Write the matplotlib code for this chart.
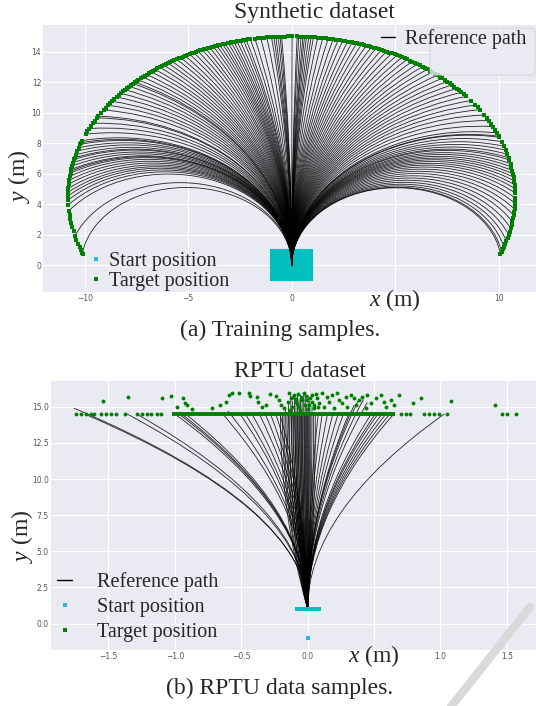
import numpy as np
import matplotlib.pyplot as plt
from matplotlib.patches import Arc, Rectangle, FancyBboxPatch
from matplotlib.lines import Line2D

plt.style.use('seaborn-v0_8-darkgrid')
plt.rcParams['font.family'] = ['Liberation Serif', 'DejaVu Serif']
plt.rcParams['mathtext.fontset'] = 'custom'
plt.rcParams['mathtext.rm'] = 'Liberation Serif'
plt.rcParams['mathtext.it'] = 'Liberation Serif:italic'

# ---------------- synthetic dataset ----------------
# targets lie on a ring around (0, 4.5); angles in degrees
ring_center = (0.0, 4.5)
ring_radii = (10.8, 10.5)
syn_origin = (0.0, 0.0)
syn_path_deg = [
    92.6, 93.0, 93.5, 94.1, 94.6, 95.2, 96.4, 98.0, 99.5, 100.7, 101.8, 102.5,
    103.4, 104.2, 105.0, 105.7, 106.5, 107.3, 108.0, 108.8, 109.6, 110.5, 111.5,
    112.6, 113.6, 114.8, 116.0, 117.2, 118.5, 119.8, 121.0, 122.4, 123.6, 124.9,
    126.2, 127.6, 128.9, 130.4, 131.8, 133.3, 134.5, 135.2, 136.6, 138.2, 139.9,
    141.6, 143.5, 145.3, 147.3, 149.9, 150.6, 152.8, 154.9, 157.1, 159.6, 160.4,
    161.0, 162.3, 163.5, 164.9, 166.0, 166.6, 167.8, 169.0, 170.3, 170.9, 171.6,
    172.8, 174.2, 175.6, 177.1, 178.5, 179.8, 181.3, 183.0, 185.1, 194.3, 200.6,
    89.9, 88.6, 88.2, 87.6, 87.1, 86.7, 86.2, 85.6, 85.0, 84.4, 83.3, 82.0, 80.6,
    79.3, 78.0, 76.8, 75.5, 74.3, 73.1, 71.8, 70.5, 69.1, 67.8, 66.3, 64.9, 63.4,
    61.9, 60.4, 58.9, 57.4, 55.8, 54.2, 52.6, 51.0, 49.3, 47.6, 45.9, 44.2, 42.4,
    40.6, 38.7, 36.8, 34.8, 32.8, 30.6, 28.3, 25.9, 23.4, 22.1, 21.7, 20.0, 18.3,
    16.8, 15.3, 14.0, 13.2, 11.8, 10.6, 9.3, 8.1, 6.9, 5.6, 4.2, 2.8, 1.2, -0.6,
    -2.5, -4.6, -6.8, -9.1, -11.5, -13.9, -16.2, -18.4, -20.2, -21.0,
]
# targets without a drawn path
syn_extra_deg = [
    91.0, 91.8, 97.2, 98.8, 101.2, 103.0, 104.6, 106.1, 107.7, 109.2, 110.0,
    111.0, 112.0, 113.1, 114.2, 115.4, 116.6, 117.8, 119.1, 120.4, 121.7, 123.0,
    124.3, 125.5, 126.9, 128.2, 129.6, 131.1, 132.5, 133.9, 135.9, 137.4, 139.0,
    140.7, 142.5, 144.4, 146.3, 148.6, 151.7, 153.9, 156.0, 186.5, 188.0, 189.5,
    191.0, 192.6, 195.7, 197.2, 198.6, 199.7, 201.0,
    83.9, 82.7, 81.3, 79.9, 78.6, 77.4, 76.1, 74.9, 73.7, 72.4, 71.1, 69.8, 68.4,
    67.0, 65.6, 64.1, 62.6, 61.1, 59.6, 58.1, 56.6, 55.0, 53.4, 51.8, 50.1, 48.4,
    46.7, 45.0, 43.3, 41.5, 39.6, 33.8, 29.4, 27.1, 24.6, -1.5, -3.5, -5.7, -7.9,
    -10.3, -12.7, -15.0, -17.3, -19.3,
]
syn_start_x = (-1.0, 1.0)
syn_start_y = (-1.0, 1.0)

# ---------------- RPTU dataset ----------------
rptu_origin = (0.0, 1.0)
# paths that leave the start heading straight up
rptu_path_x = [
    -1.76, -1.68, -1.36, -1.29, -1.00, -0.97, -0.95, -0.92, -0.64, -0.60, -0.51,
    -0.47, -0.42, -0.37, -0.32, -0.28, -0.24, -0.21,
    0.08, 0.11, 0.15, 0.19, 0.23, 0.27, 0.31, 0.35, 0.38, 0.42, 0.45, 0.48, 0.51,
    0.53, 0.56, 0.59, 0.62, 0.65, 1.03,
]
rptu_path_y = [
    14.9, 14.5, 14.5, 14.5, 14.5, 14.5, 14.5, 14.5, 14.5, 14.7, 14.5,
    14.5, 14.5, 14.6, 14.5, 14.5, 14.5, 14.5,
    14.5, 14.5, 14.5, 14.5, 14.5, 14.5, 14.5, 15.1, 15.4, 15.5, 15.3, 14.5, 14.5,
    14.5, 14.5, 14.5, 14.5, 14.5, 14.5,
]
# paths in the central bundle, arriving straight up at the target
rptu_core_x = [
    -0.205, -0.19, -0.178, -0.166, -0.155, -0.145, -0.138, -0.127, -0.121,
    -0.113, -0.106, -0.099, -0.094, -0.088, -0.081, -0.077, -0.071, -0.064,
    -0.058, -0.053, -0.047, -0.041, -0.036, -0.029, -0.024, -0.018, -0.012,
    -0.007, -0.002, 0.004, 0.009, 0.016, 0.024, 0.033, 0.045, 0.058,
]
rptu_core_y = [
    14.5, 14.6, 14.5, 15.0, 14.5, 15.2, 14.5, 15.8, 14.5, 15.4, 14.5, 15.7,
    14.5, 15.1, 14.5, 15.9, 14.5, 15.5, 14.5, 15.8, 14.5, 15.3, 14.5, 15.9,
    14.5, 15.6, 14.5, 15.2, 14.5, 15.8, 14.5, 15.4, 14.5, 15.0, 14.5, 14.5,
]
rptu_row_y = 14.5
rptu_row_band = (-1.02, 0.66)
rptu_row_x = [
    -1.747, -1.709, -1.672, -1.634, -1.609, -1.559, -1.521, -1.483, -1.441,
    -1.375, -1.282, -1.245, -1.212, -1.182, -1.132, -1.107,
    0.70, 0.738, 0.77, 0.876, 0.914, 0.951, 0.989, 1.052, 1.466, 1.504, 1.566,
]
rptu_cloud_x = [
    -1.541, -1.350, -1.099, -1.032, -0.936, -0.981, -0.926, -0.911, -0.868,
    -0.72, -0.66, -0.612, -0.592, -0.567, -0.517, -0.442, -0.437, -0.379,
    -0.371, -0.346, -0.316, -0.284, -0.241, -0.216, -0.203, -0.178, -0.141,
    -0.128, -0.103, -0.090, -0.065, -0.053, -0.028, -0.003, 0.010, 0.035, 0.048,
    0.073, 0.085, 0.110, 0.123, 0.148, 0.161, 0.186, 0.198, 0.223, 0.236, 0.261,
    0.286, 0.299, 0.324, 0.349, 0.361, 0.387, 0.412, 0.437, 0.449, 0.474, 0.512,
    0.550, 0.575, 0.587, 0.625, 0.650, 0.688, 0.796, 0.856, 1.077, 1.413,
    -0.15, -0.12, -0.11, -0.08, -0.07, -0.04, -0.02, -0.01, 0.02, 0.03, 0.06,
    0.08, -0.13, -0.06, 0.0, -0.09, 0.05,
]
rptu_cloud_y = [
    15.42, 15.70, 15.58, 15.77, 15.58, 15.01, 15.24, 15.12, 14.82,
    14.90, 15.10, 15.35, 15.81, 15.93, 15.97, 15.93, 15.74, 15.70,
    15.35, 15.01, 15.12, 15.86, 15.74, 15.47, 15.12, 14.89, 15.93,
    15.58, 15.81, 15.35, 15.01, 15.70, 15.93, 15.47, 15.12, 15.81, 14.89,
    15.58, 15.24, 15.93, 15.01, 15.70, 15.35, 15.81, 14.89, 15.93, 15.47, 15.24,
    15.70, 15.01, 15.81, 15.58, 15.12, 15.47, 15.70, 14.89, 15.81, 15.24, 15.58,
    15.81, 15.35, 15.01, 15.47, 15.12, 15.81, 15.28, 15.58, 15.42, 15.12,
    15.30, 15.00, 15.65, 15.20, 15.85, 15.45, 15.15, 15.75, 15.60, 15.30, 15.90,
    14.95, 14.80, 14.75, 14.85, 15.55, 15.10,
]
rptu_start_x = [-0.081, -0.064, -0.047, -0.030, -0.012, 0.004, 0.021, 0.039, 0.056, 0.072, 0.082]
rptu_start_y = [1.0] * len(rptu_start_x)
rptu_lone_start = (0.0, -1.0)

path_kw = dict(color='black', lw=0.6, alpha=0.85, zorder=2)
start_color = '#00bfbf'
legend_start_color = '#29b6e8'
target_color = 'green'


def draw_path(ax, start, target, tangent_at_start=True):
    # circular arc that is vertical at one of its two ends
    p, q = (start, target) if tangent_at_start else (target, start)
    dx, dy = q[0] - p[0], q[1] - p[1]
    if abs(dx) < 1e-6:
        ax.plot([start[0], target[0]], [start[1], target[1]], **path_kw)
        return
    r = (dx ** 2 + dy ** 2) / (2 * dx)
    cx, cy = p[0] + r, p[1]
    a = 180.0 if r > 0 else 0.0
    b = np.degrees(np.arctan2(q[1] - cy, q[0] - cx))
    t1, t2 = (a, b) if (b - a) % 360 <= 180 else (b, a)
    ax.add_patch(Arc((cx, cy), 2 * abs(r), 2 * abs(r), theta1=t1, theta2=t2, **path_kw))


def ring_xy(deg):
    th = np.radians(np.asarray(deg))
    return ring_center[0] + ring_radii[0] * np.cos(th), ring_center[1] + ring_radii[1] * np.sin(th)


def style_ticks(ax, xt, xl, yt, yl):
    ax.set_xticks(xt)
    ax.set_xticklabels(xl, fontfamily='DejaVu Sans', fontsize=5.5, color='#555555')
    ax.set_yticks(yt)
    ax.set_yticklabels(yl, fontfamily='DejaVu Sans', fontsize=5.5, color='#555555')
    ax.tick_params(pad=1.5, length=0)
    ax.grid(color='white', lw=0.8)


fig = plt.figure(figsize=(5.36, 7.06), dpi=100)
W, H = 536.0, 706.0

# ---- (a) synthetic ----
ax1 = fig.add_axes([43.3 / W, 1 - 291.7 / H, 1 - 43.3 / W, (291.7 - 25) / H])
ax1.add_patch(Rectangle((syn_start_x[0], syn_start_y[0]), syn_start_x[1] - syn_start_x[0],
                        syn_start_y[1] - syn_start_y[0], fc=start_color, ec=start_color, lw=1.5, zorder=1.5))
px, py = ring_xy(syn_path_deg)
for xt, yt in zip(px, py):
    draw_path(ax1, syn_origin, (xt, yt))
ex, ey = ring_xy(syn_extra_deg)
ax1.plot(np.concatenate([px, ex]), np.concatenate([py, ey]), ls='none', marker='s', ms=3.2,
         mew=0, color=target_color, zorder=3)
ax1.set_xlim(-12.0, 11.8)
ax1.set_ylim(-1.75, 15.75)
style_ticks(ax1, [-10, -5, 0, 5, 10], ['\u221210', '\u22125', '0', '', '10'],
            range(0, 15, 2), [str(v) for v in range(0, 15, 2)])

leg_font = 14.5
h_path = Line2D([], [], color='black', lw=1.0)
h_start = Line2D([], [], ls='none', marker='s', ms=2.2, mew=0, color=legend_start_color)
h_target = Line2D([], [], ls='none', marker='s', ms=2.2, mew=0, color=target_color)

ax1.add_patch(FancyBboxPatch((430 / W, 1 - 75 / H), 105 / W, 47 / H,
                             boxstyle='round,pad=0,rounding_size=0.006', transform=fig.transFigure,
                             fc='#EAEAF2', ec='0.82', lw=0.8, alpha=0.8, zorder=4))
lg1 = ax1.legend([h_path], ['Reference path'], loc='center left', frameon=False,
                 bbox_to_anchor=(381 / W, 1 - 39.5 / H), bbox_transform=fig.transFigure,
                 fontsize=leg_font, handlelength=0.7, handletextpad=0.5, borderpad=0, borderaxespad=0)
ax1.add_artist(lg1)
lg1.set_zorder(5)
lg2 = ax1.legend([h_start, h_target], ['Start position', 'Target position'], loc='center left',
                 frameon=False, bbox_to_anchor=(90.6 / W, 1 - 271.3 / H), bbox_transform=fig.transFigure,
                 fontsize=leg_font, handlelength=0.5, handletextpad=0.4, borderpad=0,
                 borderaxespad=0, labelspacing=0.05)
lg2.set_zorder(5)

fig.text(314.5 / W, 1 - 12.7 / H, 'Synthetic dataset', ha='center', va='center', fontsize=17)
fig.text(395 / W, 1 - 300 / H, '$x$ (m)', ha='center', va='center', fontsize=17)
fig.text(18.8 / W, 1 - 176.7 / H, '$y$ (m)', ha='center', va='center', fontsize=17, rotation=90)
fig.text(280 / W, 1 - 330 / H, '(a) Training samples.', ha='center', va='center', fontsize=17)

# ---- (b) RPTU ----
ax2 = fig.add_axes([50.7 / W, 1 - 650 / H, 1 - 50.7 / W, (650 - 381) / H])
for xt, yt in zip(rptu_path_x, rptu_path_y):
    draw_path(ax2, rptu_origin, (xt, yt))
for xt, yt in zip(rptu_core_x, rptu_core_y):
    draw_path(ax2, rptu_origin, (xt, yt), tangent_at_start=False)
ax2.hlines(rptu_row_y, rptu_row_band[0], rptu_row_band[1], color=target_color, lw=2.8, zorder=3)
ax2.plot(rptu_row_x, [rptu_row_y] * len(rptu_row_x), ls='none', marker='o', ms=2.8, mew=0,
         color=target_color, zorder=3)
ax2.plot(rptu_cloud_x, rptu_cloud_y, ls='none', marker='o', ms=2.8, mew=0, color=target_color, zorder=3)
ax2.plot(rptu_start_x, rptu_start_y, ls='none', marker='s', ms=3.0, mew=0, color=start_color, zorder=4)
ax2.plot([rptu_lone_start[0]], [rptu_lone_start[1]], ls='none', marker='s', ms=2.5, mew=0,
         color=legend_start_color, zorder=4)
ax2.set_xlim(-1.935, 1.72)
ax2.set_ylim(-1.83, 16.78)
style_ticks(ax2, [-1.5, -1.0, -0.5, 0.0, 0.5, 1.0, 1.5],
            ['\u22121.5', '\u22121.0', '\u22120.5', '0.0', '', '1.0', '1.5'],
            [0.0, 2.5, 5.0, 7.5, 10.0, 12.5, 15.0],
            ['0.0', '2.5', '5.0', '7.5', '10.0', '12.5', '15.0'])
lg3 = ax2.legend([h_path, h_start, h_target], ['Reference path', 'Start position', 'Target position'],
                 loc='center left', frameon=False, bbox_to_anchor=(57.3 / W, 1 - 607 / H),
                 bbox_transform=fig.transFigure, fontsize=leg_font, handlelength=0.72,
                 handletextpad=1.27, borderpad=0, borderaxespad=0, labelspacing=0.3)
lg3.set_zorder(5)

fig.text(300 / W, 1 - 371.7 / H, 'RPTU dataset', ha='center', va='center', fontsize=17)
fig.text(374 / W, 1 - 656 / H, '$x$ (m)', ha='center', va='center', fontsize=17)
fig.text(22 / W, 1 - 536.7 / H, '$y$ (m)', ha='center', va='center', fontsize=17, rotation=90)
fig.text(280 / W, 1 - 688 / H, '(b) RPTU data samples.', ha='center', va='center', fontsize=17)

# faint diagonal stroke in the lower right corner
fig.add_artist(Line2D([450 / W, 530 / W], [1 - 708 / H, 1 - 607 / H], transform=fig.transFigure,
                      color='#d9d9d9', lw=6, solid_capstyle='round', zorder=10))

fig.savefig('out.png', dpi=100)
